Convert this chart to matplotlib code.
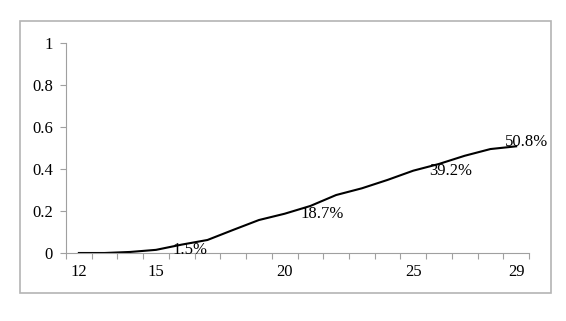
import matplotlib.pyplot as plt
from matplotlib.patches import Rectangle
import numpy as np

# %% Data

ages = np.arange(12, 30)
share = [0.0, 0.0, 0.005, 0.015, 0.04, 0.062, 0.11, 0.157, 0.187,
         0.224, 0.276, 0.308, 0.348, 0.392, 0.424, 0.463, 0.495, 0.508]

shown_ages = [12, 15, 20, 25, 29]
y_ticks = [0, 0.2, 0.4, 0.6, 0.8, 1.0]
y_labels = ["0", "0.2", "0.4", "0.6", "0.8", "1"]

labelled = {15: "1.5%", 20: "18.7%", 25: "39.2%", 29: "50.8%"}

# %% Plot

plt.rcParams['font.family'] = ['Liberation Serif', 'DejaVu Serif']
plt.rcParams['font.size'] = 12

dpi = 100
fig = plt.figure(figsize=(5.66, 3.21), dpi=dpi)
fig.patches.append(Rectangle((20 / 566, 1 - 293 / 321), 531 / 566, 272 / 321,
                             transform=fig.transFigure, fill=False,
                             ec="#b4b4b4", lw=1.2))

ax = fig.add_axes([66 / 566, 1 - 253 / 321, 463 / 566, 210 / 321])

ax.plot(ages, share, color="black", lw=1.5)

px = 72 / dpi
for age, text in labelled.items():
    val = share[list(ages).index(age)]
    dx, dy = (16, 0) if age != 29 else (-11, 4)
    ax.annotate(text, (age, val), xytext=(dx * px, dy * px),
                textcoords="offset points", ha="left", va="center")

ax.set_xlim(ages[0] - 0.5, ages[-1] + 0.5)
ax.set_ylim(0, 1)

# category boundaries get tick marks, labels sit on category centres
ax.set_xticks(np.arange(ages[0] - 0.5, ages[-1] + 1, 1))
ax.set_xticklabels([])
ax.set_xticks(shown_ages, minor=True)
ax.set_xticklabels([str(a) for a in shown_ages], minor=True)
ax.tick_params(axis="x", which="major", direction="out", length=4, color="#a0a0a0")
ax.tick_params(axis="x", which="minor", length=0, pad=8)

ax.set_yticks(y_ticks)
ax.set_yticklabels(y_labels)
ax.tick_params(axis="y", direction="out", length=4.5, color="#a0a0a0", pad=5)

for side in ["top", "right"]:
    ax.spines[side].set_visible(False)
for side in ["left", "bottom"]:
    ax.spines[side].set_color("#a0a0a0")

fig.savefig("out.png", dpi=dpi)
